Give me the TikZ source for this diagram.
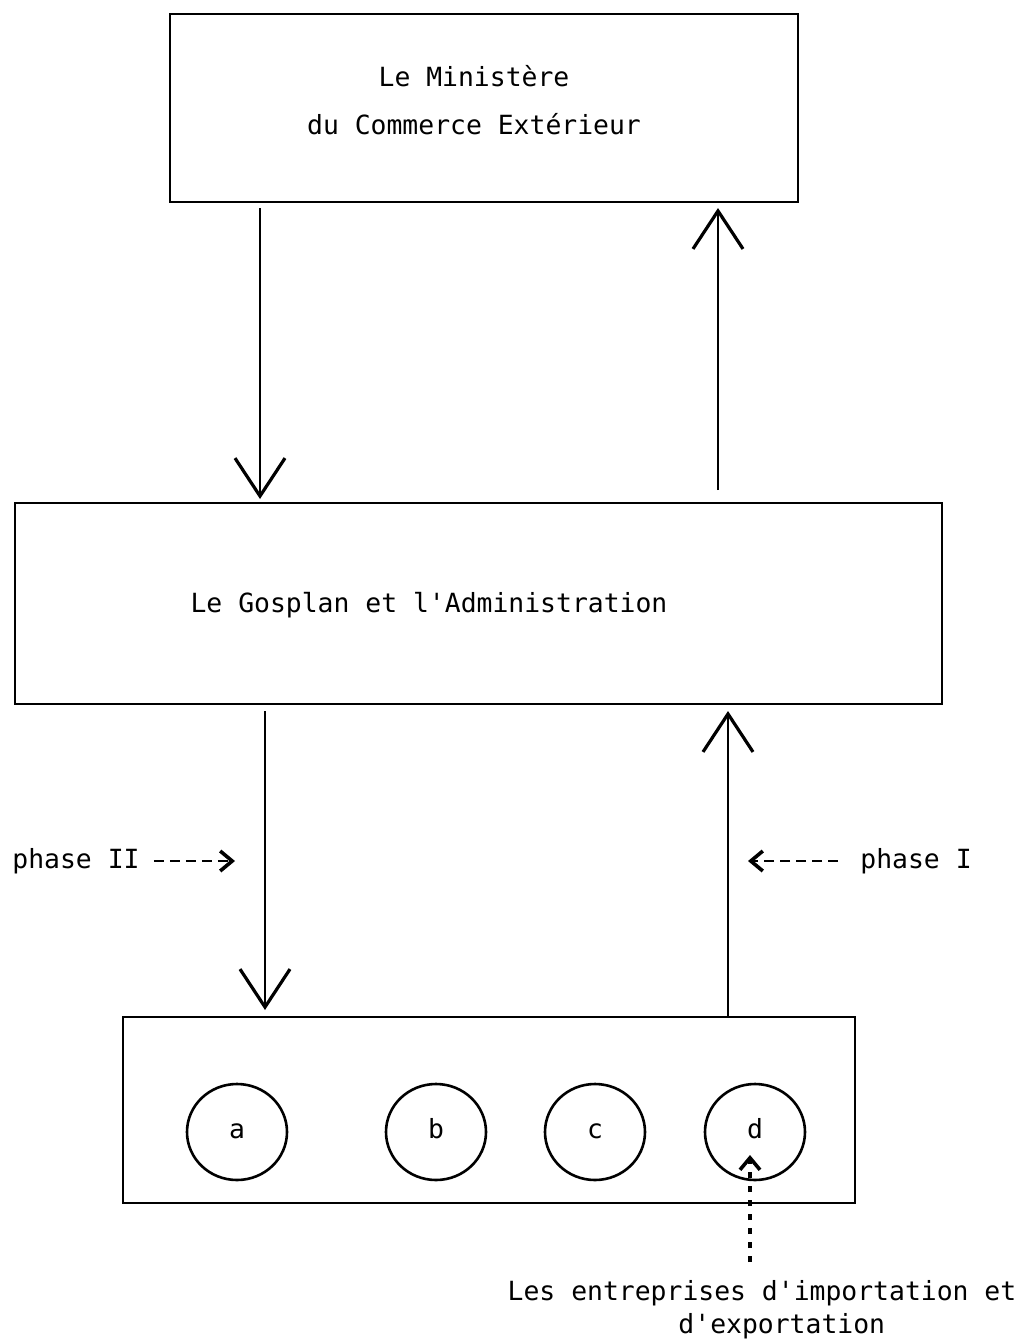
\documentclass[tikz,border=0pt]{standalone}
\usepackage{fontspec}
\setmonofont{DejaVu Sans Mono}
\usetikzlibrary{arrows.meta,shapes.geometric}
\begin{document}
\begin{tikzpicture}[x=0.5pt,y=-0.5pt,
  font=\fontsize{13.2pt}{16pt}\ttfamily,
  box/.style={draw,line width=1pt,inner sep=0pt},
  circ/.style={draw,ellipse,line width=1.3pt,minimum width=50pt,minimum height=48pt,inner sep=0pt,text height=1.5ex,text depth=0pt},
  arr/.style={line width=1.1pt,-{Straight Barb[length=19pt,width=25pt,line width=1.6pt]}},
  darr/.style={line width=1.4pt,dash pattern=on 5pt off 3pt,-{Straight Barb[length=6pt,width=10pt,line width=1.8pt]}},
  lbl/.style={inner sep=0pt,anchor=center}]
\useasboundingbox (0,0) rectangle (1022,1340);
\fill[white] (0,0) rectangle (1022,1340);
% boxes
\node[box,minimum width=314pt,minimum height=94pt] (top) at (484,108) {};
\node[lbl,align=center,font=\fontsize{13.2pt}{24pt}\ttfamily] (toptext) at (474,100) {Le Ministère\\du Commerce Extérieur};
\node[box,minimum width=463.5pt,minimum height=100.5pt] (mid) at (478.5,603.5) {};
\node[lbl] (midtext) at (429,605) {Le Gosplan et l'Administration};
\node[box,minimum width=366pt,minimum height=93pt] (bot) at (489,1110) {};
% circles
\node[circ] (ca) at (237,1132) {a};
\node[circ] (cb) at (436,1132) {b};
\node[circ] (cc) at (595,1132) {c};
\node[circ] (cd) at (755,1132) {d};
% x positions
\coordinate (x1) at (260,0);
\coordinate (x2) at (718,0);
\coordinate (x3) at (265,0);
\coordinate (x4) at (728,0);
% arrows
\draw[arr,shorten <=2.5pt,shorten >=1.5pt] (top.south -| x1) -- (mid.north -| x1);
\draw[arr,shorten <=6pt,shorten >=2.5pt] (mid.north -| x2) -- (top.south -| x2);
\draw[arr,line width=0.8pt,shorten <=3pt,shorten >=3pt] (mid.south -| x3) -- (bot.north -| x3);
\draw[arr,shorten <=0pt,shorten >=3pt] (bot.north -| x4) -- (mid.south -| x4);
% phase labels
\node[lbl,anchor=west] (p2) at (12,861) {phase II};
\coordinate (p2end) at (235,861);
\draw[darr] (p2.east) ++(14,0) coordinate (p2start) -- (p2end);
\node[lbl,anchor=west] (p1) at (860,861) {phase I};
\coordinate (p1end) at (748,861);
\draw[darr] (p1.west) ++(-22,0) coordinate (p1start) -- (p1end);
% bottom text
\node[lbl,align=center,anchor=north,font=\fontsize{13.2pt}{16.5pt}\ttfamily] (ent) at (762,1280) {Les entreprises d'importation et\\\hspace*{1.5em}d'exportation};
\coordinate (dstart) at (750,1262);
\coordinate (dend) at (750,1155);
\draw[line width=1.6pt,dash pattern=on 3pt off 4pt,-{Straight Barb[length=6pt,width=10pt,line width=1.8pt]}] (dstart) -- (dend);
\end{tikzpicture}
\end{document}
